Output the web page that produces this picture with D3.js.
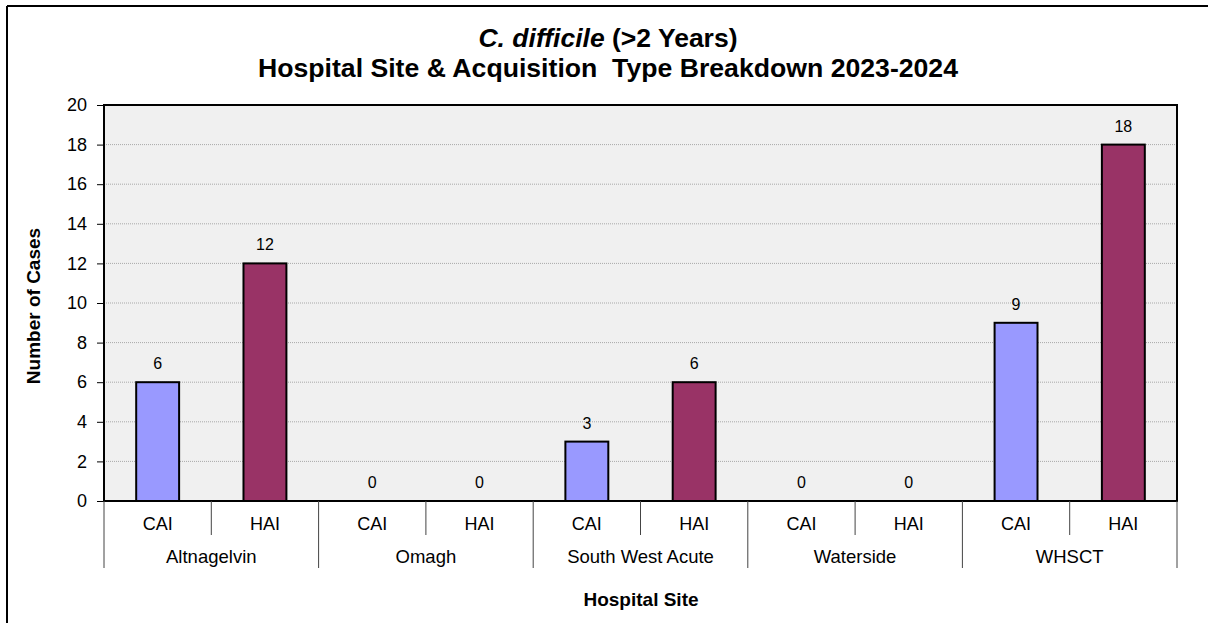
<!DOCTYPE html>
<html><head><meta charset="utf-8">
<script src="https://cdn.jsdelivr.net/npm/d3@7"></script>
<style>body{margin:0;background:#fff}svg{display:block}text{font-family:"Liberation Sans",Arial,sans-serif}</style>
</head><body><svg id="c" width="1208" height="623"></svg>
<script>
const sites = ["Altnagelvin","Omagh","South West Acute","Waterside","WHSCT"];
const types = ["CAI","HAI"];
const caiValues = [6,0,3,0,9];
const haiValues = [12,0,6,0,18];
const yTicks = [0,2,4,6,8,10,12,14,16,18,20];
const colors = {CAI:"#9999FF", HAI:"#993366"};

const svg = d3.select("#c");
const L=104, R=1177, T=105, B=501;

// outer border
svg.append("line").attr("x1",7).attr("x2",1208).attr("y1",6).attr("y2",6).attr("stroke","#000").attr("stroke-width",2);
svg.append("line").attr("x1",7).attr("x2",7).attr("y1",6).attr("y2",623).attr("stroke","#000").attr("stroke-width",2);

// titles
const t1 = svg.append("text").attr("x",608).attr("y",47).attr("text-anchor","middle").attr("font-size",26.5).attr("font-weight","bold");
t1.append("tspan").attr("font-style","italic").text("C. difficile");
t1.append("tspan").text(" (>2 Years)");
svg.append("text").attr("x",608).attr("y",77).attr("text-anchor","middle").attr("font-size",26.5).attr("font-weight","bold")
  .style("white-space","pre").attr("textLength",700).attr("lengthAdjust","spacingAndGlyphs")
  .text("Hospital Site & Acquisition  Type Breakdown 2023-2024");

const data = [];
sites.forEach((s,i)=>{ data.push({site:s,type:"CAI",v:caiValues[i]}); data.push({site:s,type:"HAI",v:haiValues[i]}); });
const keys = data.map(d=>d.site+"|"+d.type);

const x = d3.scaleBand().domain(keys).range([L,R]).paddingInner(0.6).paddingOuter(0.3);
const xs = d3.scaleBand().domain(keys).range([L,R]);
const xg = d3.scaleBand().domain(sites).range([L,R]);
const y = d3.scaleLinear().domain([0,20]).range([B,T]);

svg.append("rect").attr("x",L).attr("y",T).attr("width",R-L).attr("height",B-T).attr("fill","#f0f0f0");

// gridlines
svg.append("g").selectAll("line").data(yTicks.filter(t=>t>0&&t<20)).join("line")
  .attr("x1",L).attr("x2",R).attr("y1",d=>y(d)).attr("y2",d=>y(d))
  .attr("stroke","#a8a8a8").attr("stroke-width",1).attr("stroke-dasharray","1,1");

// y axis
const ya = svg.append("g").attr("transform",`translate(${L},0)`)
  .call(d3.axisLeft(y).tickValues(yTicks).tickSize(7).tickPadding(10));
ya.select(".domain").remove();
ya.selectAll("line").attr("stroke","#000");
ya.selectAll("text").attr("font-size",18).attr("fill","#000").style("font-family","'Liberation Sans',Arial,sans-serif");

// bars
svg.append("g").selectAll("rect").data(data).join("rect")
  .attr("x",d=>x(d.site+"|"+d.type)).attr("width",x.bandwidth())
  .attr("y",d=>y(d.v)).attr("height",d=>y(0)-y(d.v))
  .attr("fill",d=>colors[d.type]).attr("stroke","#000").attr("stroke-width",2)
  .attr("display",d=>d.v>0?null:"none");

// value labels
svg.append("g").selectAll("text").data(data).join("text")
  .attr("x",d=>x(d.site+"|"+d.type)+x.bandwidth()/2).attr("y",d=>y(d.v)-13)
  .attr("text-anchor","middle").attr("font-size",16).attr("fill","#000").text(d=>d.v);

// plot border
svg.append("rect").attr("x",L).attr("y",T).attr("width",R-L).attr("height",B-T).attr("fill","none").attr("stroke","#000").attr("stroke-width",2);

// category axis: small ticks between types
svg.append("g").selectAll("line").data(sites).join("line")
  .attr("x1",d=>xg(d)+xg.bandwidth()/2).attr("x2",d=>xg(d)+xg.bandwidth()/2)
  .attr("y1",B).attr("y2",535).attr("stroke","#444").attr("stroke-width",1);
// group separators
const seps = sites.map(s=>xg(s)).concat([R]);
svg.append("g").selectAll("line").data(seps).join("line")
  .attr("x1",d=>d).attr("x2",d=>d).attr("y1",B).attr("y2",568).attr("stroke","#444").attr("stroke-width",1);

svg.append("g").selectAll("text").data(data).join("text")
  .attr("x",d=>xs(d.site+"|"+d.type)+xs.bandwidth()/2).attr("y",530)
  .attr("text-anchor","middle").attr("font-size",18).attr("fill","#000").text(d=>d.type);
svg.append("g").selectAll("text").data(sites).join("text")
  .attr("x",d=>xg(d)+xg.bandwidth()/2).attr("y",563)
  .attr("text-anchor","middle").attr("font-size",18.5).attr("fill","#000").text(d=>d);

// axis titles
svg.append("text").attr("x",641).attr("y",606).attr("text-anchor","middle").attr("font-size",19).attr("font-weight","bold").text("Hospital Site");
svg.append("text").attr("transform","translate(40,306) rotate(-90)").attr("text-anchor","middle").attr("font-size",19).attr("font-weight","bold").text("Number of Cases");
</script></body></html>
